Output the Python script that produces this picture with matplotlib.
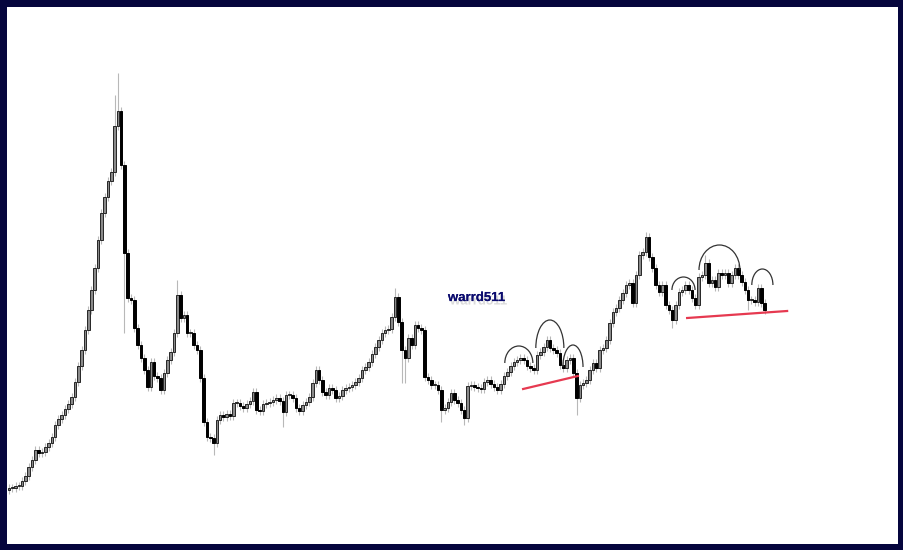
import numpy as np
import matplotlib.pyplot as plt
from matplotlib.patches import Arc
import matplotlib.patheffects as pe

# closing prices, one per candle (weekly style)
closes = [62, 62, 64, 64, 69, 74, 83, 90, 100, 97,
          98, 103, 107, 113, 125, 131, 135, 141, 146, 153,
          168, 184, 200, 220, 240, 260, 282, 310, 337, 353,
          369, 378, 424, 439, 385, 297, 252, 250, 222, 205,
          192, 180, 163, 188, 174, 172, 160, 177, 190, 198,
          217, 255, 232, 235, 217, 217, 205, 200, 172, 128,
          113, 112, 107, 130, 135, 133, 136, 134, 147, 147,
          144, 142, 146, 149, 158, 140, 139, 146, 147, 148,
          150, 152, 149, 138, 155, 155, 152, 142, 139, 145,
          148, 153, 167, 180, 170, 158, 155, 162, 160, 152,
          154, 160, 162, 163, 165, 168, 172, 180, 183, 188,
          196, 203, 210, 217, 220, 221, 233, 253, 228, 200,
          192, 212, 205, 225, 222, 220, 173, 170, 165, 165,
          160, 140, 142, 148, 157, 150, 147, 140, 132, 164,
          165, 163, 162, 161, 168, 170, 166, 163, 160, 166,
          174, 178, 184, 188, 190, 192, 190, 184, 182, 180,
          195, 198, 203, 210, 202, 200, 197, 185, 182, 190,
          192, 177, 152, 165, 167, 170, 180, 187, 182, 200,
          202, 210, 227, 238, 242, 250, 257, 265, 267, 247,
          275, 295, 298, 313, 293, 282, 265, 258, 265, 245,
          240, 230, 245, 258, 260, 265, 260, 252, 245, 273,
          275, 287, 267, 270, 263, 277, 275, 277, 267, 275,
          282, 275, 268, 260, 250, 250, 248, 262, 247, 240]
first_open = 60

# the few long wicks that stand out
long_highs = {32: 455, 33: 477, 51: 270, 117: 262, 193: 318, 211: 295}
long_lows = {35: 217, 62: 95, 83: 123, 119: 167, 120: 167, 131: 128,
             138: 125, 172: 135, 201: 222, 224: 240}

# annotations (candle index, price)
support_left = ([155.8, 172.4], [161, 174])
support_right = ([205.5, 235.8], [232, 239])
arcs = [(154.5, 187, 8.5, 34), (163.9, 202, 8.5, 56), (170.9, 183, 6.1, 44),
        (204.4, 260, 7.0, 26), (215.3, 280, 12.4, 50), (228.3, 265, 6.4, 32)]

opens = [first_open] + closes[:-1]
n = len(closes)
idx = np.arange(n)

fig = plt.figure(figsize=(9.04, 5.5), dpi=100, facecolor='#05053d')
ax = fig.add_axes([7 / 904, 6 / 550, 891 / 904, 537 / 550])
ax.set_facecolor('white')

bottoms, heights, faces, edges, his, los = [], [], [], [], [], []
for i in range(n):
    o, c = opens[i], closes[i]
    top, bot = max(o, c), min(o, c)
    h = max(top - bot, 1.5)
    bottoms.append(bot)
    heights.append(h)
    if c >= o:
        faces.append('#8a8a8a')
        edges.append('#262626')
    else:
        faces.append('black')
        edges.append('black')
    his.append(long_highs.get(i, top + 4))
    los.append(long_lows.get(i, bot - 4))

ax.vlines(idx, los, his, color='#b8b8b8', lw=0.8, zorder=1)
ax.bar(idx, heights, bottom=bottoms, width=0.8, color=faces,
       edgecolor=edges, linewidth=0.7, zorder=2)

red = '#e63950'
ax.plot(*support_left, color=red, lw=1.6, zorder=3)
ax.plot(*support_right, color=red, lw=1.6, zorder=3)
for cx, cy, w, h in arcs:
    ax.add_patch(Arc((cx, cy), w, h, theta1=0, theta2=180,
                     color='#333333', lw=0.9, zorder=3))

ax.text(0.527, 0.458, 'warrd511', transform=ax.transAxes,
        ha='center', va='center', fontsize=9.5, fontweight='bold',
        family='Liberation Sans', color='#0b0b6e',
        path_effects=[pe.withSimplePatchShadow(offset=(1.5, -2.5),
                                               shadow_rgbFace='#b0b0b0',
                                               alpha=0.45), pe.Normal()])

ax.set_xlim(-0.6, 269.4)
ax.set_ylim(6, 543)
ax.set_xticks([])
ax.set_yticks([])
for s in ax.spines.values():
    s.set_visible(False)

fig.savefig('out.png', dpi=100, facecolor=fig.get_facecolor())
